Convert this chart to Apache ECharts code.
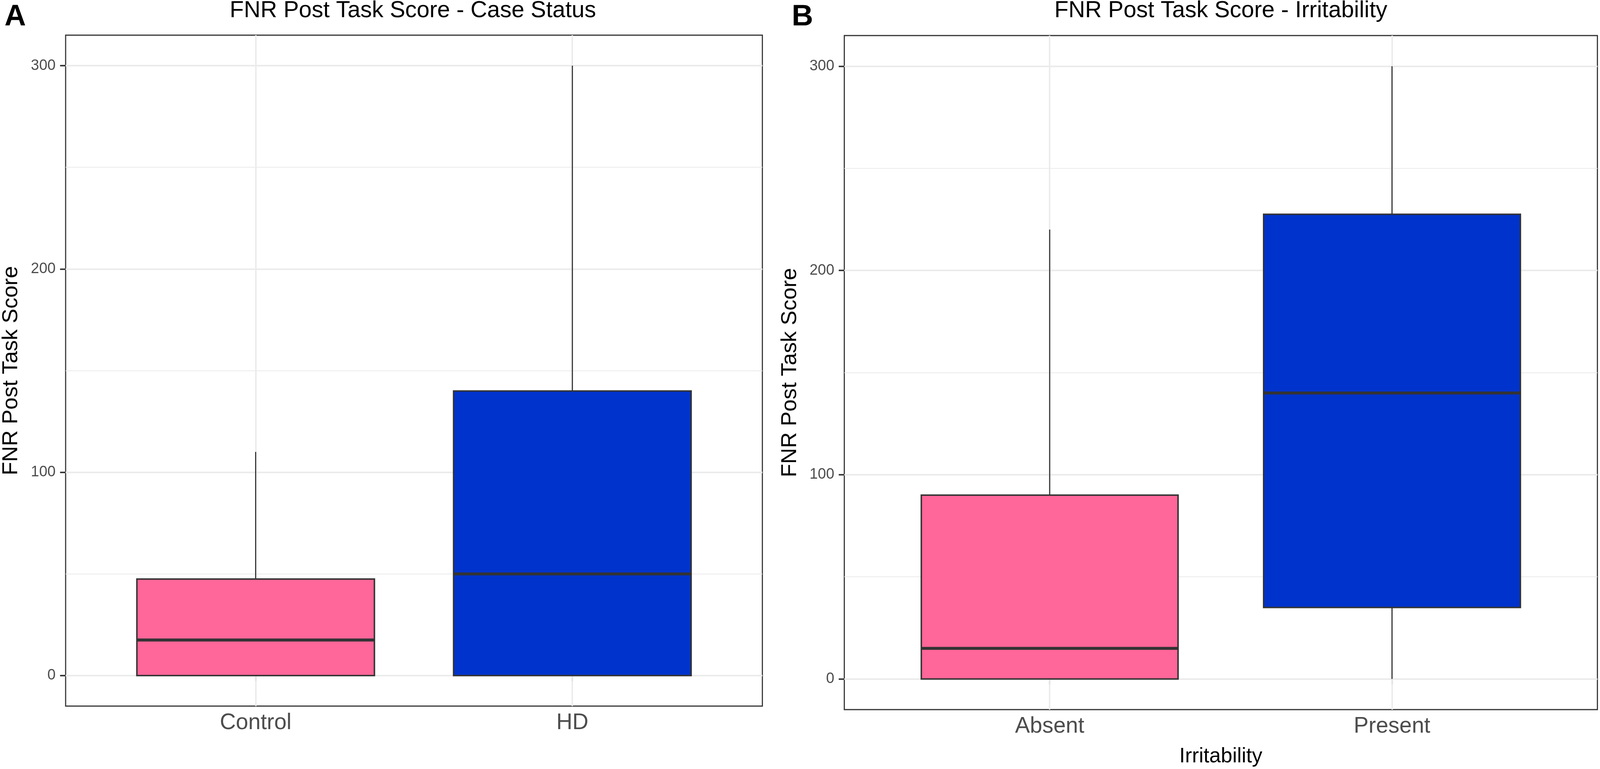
<!DOCTYPE html>
<html>
<head>
<meta charset="utf-8">
<title>FNR Post Task Score</title>
<script src="https://cdn.jsdelivr.net/npm/echarts@6/dist/echarts.min.js"></script>
<style>
  html, body { margin: 0; padding: 0; background: #fff; overflow: hidden; }
  #chart { width: 100vw; height: 100vh; }
</style>
</head>
<body>
<div id="chart"></div>
<script>
// Panel A: case status (min, q1, median, q3, max)
const caseStatus = ['Control', 'HD'];
const caseBoxes = [
    [0, 0, 17.5, 47.5, 110],
    [0, 0, 50, 140, 300]
];

// Panel B: irritability (min, q1, median, q3, max)
const irritability = ['Absent', 'Present'];
const irritabilityBoxes = [
    [0, 0, 15, 90, 220],
    [0, 35, 140, 227.5, 300]
];

const boxColors = ['#FF6699', '#0033CC'];
const majorTicks = [0, 100, 200, 300];
const minorTicks = [50, 150, 250];
const panelTitles = ['FNR Post Task Score - Case Status', 'FNR Post Task Score - Irritability'];
const yName = 'FNR Post Task Score';

const FONT = 'Liberation Sans';
const INK = '#333333';
const GRID_LINE = '#EBEBEB';
const BOX_WIDTH = 0.75;

// layout is designed for 4317 x 1968, scaled to the real window
const W = window.innerWidth, H = window.innerHeight;
const sx = W / 4317, sy = H / 1968, s = Math.min(sx, sy);

// boxplot drawn ggplot-style: no whisker caps, thick median
function renderBox(params, api) {
    const x = api.value(0);
    const lo = api.coord([x, api.value(1)]);
    const q1 = api.coord([x, api.value(2)]);
    const md = api.coord([x, api.value(3)]);
    const q3 = api.coord([x, api.value(4)]);
    const hi = api.coord([x, api.value(5)]);
    const w = api.size([BOX_WIDTH, 0])[0];
    const cx = q1[0];
    return {
        type: 'group',
        children: [
            { type: 'line', shape: { x1: cx, y1: hi[1], x2: cx, y2: q3[1] }, style: { stroke: INK, lineWidth: 3 * s } },
            { type: 'line', shape: { x1: cx, y1: q1[1], x2: cx, y2: lo[1] }, style: { stroke: INK, lineWidth: 3 * s } },
            {
                type: 'rect',
                shape: { x: cx - w / 2, y: q3[1], width: w, height: q1[1] - q3[1] },
                style: { fill: boxColors[params.dataIndex], stroke: INK, lineWidth: 4 * s }
            },
            { type: 'line', shape: { x1: cx - w / 2, y1: md[1], x2: cx + w / 2, y2: md[1] }, style: { stroke: INK, lineWidth: 8 * s } }
        ]
    };
}

function boxSeries(idx, boxes) {
    return {
        type: 'custom',
        xAxisIndex: idx,
        yAxisIndex: idx,
        z: 10,
        silent: true,
        data: boxes.map((b, i) => [i + 1].concat(b)),
        encode: { x: 0, y: [1, 2, 3, 4, 5] },
        renderItem: renderBox
    };
}

// background grid lines (major + minor + category verticals)
function gridSeries(idx, count) {
    const lines = [];
    majorTicks.forEach(v => lines.push({ yAxis: v, lineStyle: { width: 4 * s } }));
    minorTicks.forEach(v => lines.push({ yAxis: v, lineStyle: { width: 2 * s } }));
    for (let i = 1; i <= count; i++) lines.push({ xAxis: i, lineStyle: { width: 4 * s } });
    return {
        type: 'line',
        xAxisIndex: idx,
        yAxisIndex: idx,
        data: [],
        z: 1,
        markLine: {
            silent: true,
            z: 1,
            symbol: ['none', 'none'],
            label: { show: false },
            lineStyle: { color: GRID_LINE, type: 'solid' },
            emphasis: { disabled: true },
            data: lines
        }
    };
}

function xAxis(idx, cats, name) {
    return {
        type: 'value',
        gridIndex: idx,
        min: 0.4,
        max: 2.6,
        splitLine: { show: false },
        axisLine: { show: false },
        axisTick: { show: true, customValues: [1, 2], length: 15 * s, lineStyle: { color: INK, width: 4 * s } },
        axisLabel: {
            customValues: [1, 2],
            formatter: v => cats[Math.round(v) - 1] || '',
            fontFamily: FONT, fontSize: 60 * s, color: '#4D4D4D', margin: 16 * s
        },
        name: name,
        nameLocation: 'middle',
        nameGap: 94 * sy,
        nameTextStyle: { fontFamily: FONT, fontSize: 56 * s, color: '#000' }
    };
}

function yAxis(idx) {
    return {
        type: 'value',
        gridIndex: idx,
        min: -15,
        max: 315,
        splitLine: { show: false },
        axisLine: { show: false },
        axisTick: { show: true, customValues: majorTicks, length: 15 * s, lineStyle: { color: INK, width: 4 * s } },
        axisLabel: { customValues: majorTicks, fontFamily: FONT, fontSize: 40 * s, color: '#4D4D4D', margin: 27 * sx },
        name: yName,
        nameLocation: 'middle',
        nameRotate: 90,
        nameGap: 117 * sx,
        nameTextStyle: { fontFamily: FONT, fontSize: 56 * sy, color: '#000' }
    };
}

const chart = echarts.init(document.getElementById('chart'));

function font(size, bold) {
    return (bold ? 'bold ' : '') + Math.round(size * s) + 'px "' + FONT + '"';
}

const option = {
    animation: false,
    backgroundColor: '#fff',
    grid: [
        { left: 172 * sx, right: (4317 - 2057) * sx, top: 90 * sy, bottom: (1968 - 1807) * sy, show: true, borderColor: INK, borderWidth: 3 * s, backgroundColor: 'transparent' },
        { left: 2278 * sx, right: (4317 - 4310) * sx, top: 91 * sy, bottom: (1968 - 1818) * sy, show: true, borderColor: INK, borderWidth: 3 * s, backgroundColor: 'transparent' }
    ],
    xAxis: [xAxis(0, caseStatus, ''), xAxis(1, irritability, 'Irritability')],
    yAxis: [yAxis(0), yAxis(1)],
    graphic: [
        { type: 'text', x: 1114 * sx, y: 28 * sy, style: { text: panelTitles[0], font: font(62), fill: '#000', textAlign: 'center', textVerticalAlign: 'middle' } },
        { type: 'text', x: 3294 * sx, y: 28 * sy, style: { text: panelTitles[1], font: font(62), fill: '#000', textAlign: 'center', textVerticalAlign: 'middle' } },
        { type: 'text', x: 12 * sx, y: 44 * sy, style: { text: 'A', font: font(80, true), fill: '#000', textAlign: 'left', textVerticalAlign: 'middle' } },
        { type: 'text', x: 2136 * sx, y: 44 * sy, style: { text: 'B', font: font(80, true), fill: '#000', textAlign: 'left', textVerticalAlign: 'middle' } }
    ],
    series: [
        gridSeries(0, caseStatus.length),
        gridSeries(1, irritability.length),
        boxSeries(0, caseBoxes),
        boxSeries(1, irritabilityBoxes)
    ]
};

chart.setOption(option);
</script>
</body>
</html>
